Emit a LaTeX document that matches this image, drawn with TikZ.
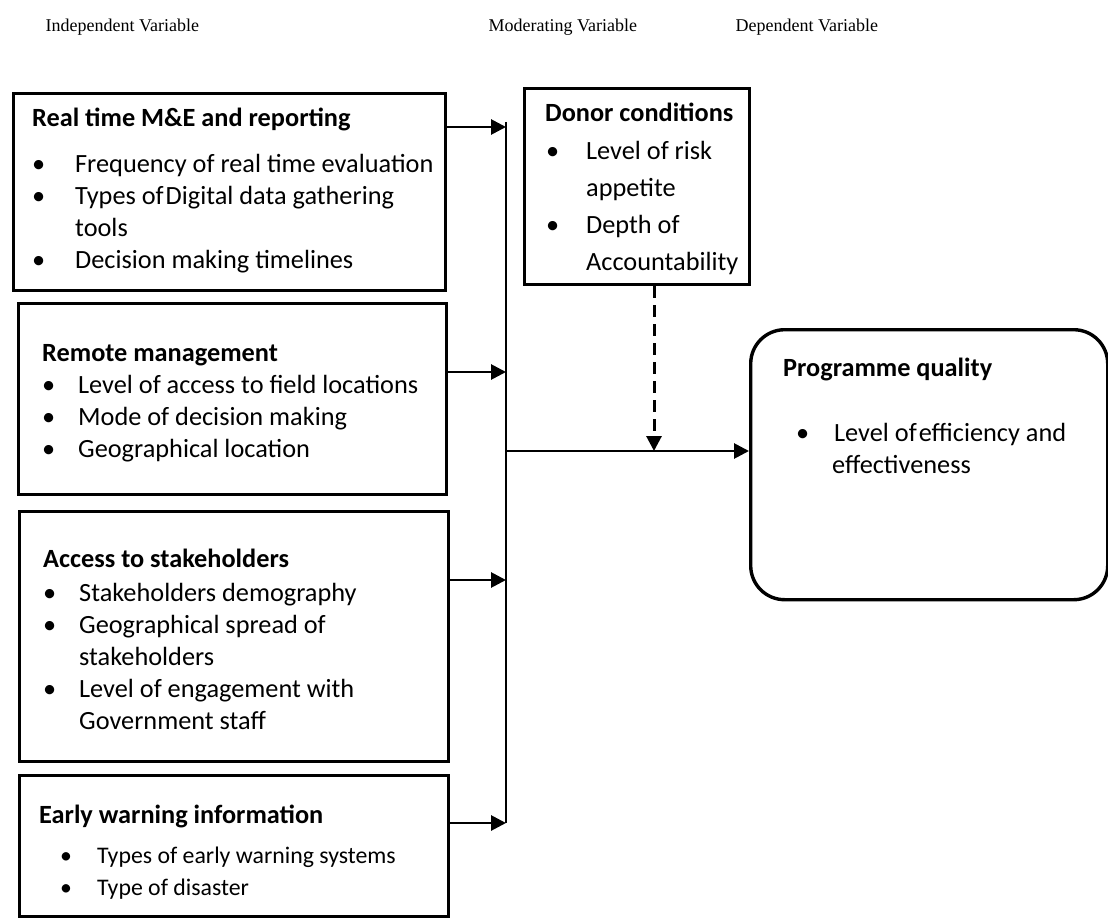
\documentclass[tikz,border=0pt]{standalone}
\usepackage{fontspec}
\setmainfont{Liberation Serif}
\newfontfamily\calfont{Carlito}
\usetikzlibrary{positioning,arrows.meta}

% bullet line and its hanging line
\newcommand{\bul}[2]{\hspace*{#1}\makebox[#2][l]{\textbullet}}
\newcommand{\topstrut}{\rule{0pt}{20pt}}

\begin{document}
\begin{tikzpicture}[x=1pt,y=-1pt,
	varbox/.style={draw, line width=3.2pt, anchor=north west, inner sep=0pt},
	boxtext/.style={anchor=north west, align=left, inner sep=0pt,
		font=\calfont\fontsize{26.3}{32}\selectfont},
	arr/.style={-{Triangle[length=15pt,width=15pt]}, line width=2.8pt},
	hdr/.style={anchor=west, font=\fontsize{18}{20}\selectfont}]

	\useasboundingbox (0,0) rectangle (1108,920);

	% column heads
	\node [hdr] (head-ind) at (42,27) {Independent Variable};
	\node [hdr] (head-mod) at (485,27) {Moderating Variable};
	\node [hdr] (head-dep) at (732,27) {Dependent Variable};

	% independent variables
	\node [varbox, minimum width=432pt, minimum height=197pt] (rt) at (12,92) {};
	\node [boxtext] (rt-txt) at ([xshift=20pt,yshift=-14.5pt]rt.north west)
	{\topstrut\textbf{Real time M\&E and reporting}\\[14pt]
		\bul{0pt}{43pt}Frequency of real time evaluation\\
		\bul{0pt}{43pt}Types of\hspace{2pt}Digital data gathering\\
		\hspace*{43pt}tools\\
		\bul{0pt}{43pt}Decision making timelines};

	\node [varbox, minimum width=428pt, minimum height=191pt] (rm) at (17,302) {};
	\node [boxtext] (rm-txt) at ([xshift=25pt,yshift=-39.5pt]rm.north west)
	{\topstrut\textbf{Remote management}\\
		\bul{0pt}{36pt}Level of access to field locations\\
		\bul{0pt}{36pt}Mode of decision making\\
		\bul{0pt}{36pt}Geographical location};

	\node [varbox, minimum width=429pt, minimum height=250pt] (as) at (18,510) {};
	\node [boxtext] (as-txt) at ([xshift=25pt,yshift=-37pt]as.north west)
	{\topstrut\textbf{Access to stakeholders}\\[2pt]
		\bul{0pt}{36pt}Stakeholders demography\\
		\bul{0pt}{36pt}Geographical spread of\\
		\hspace*{36pt}stakeholders\\
		\bul{0pt}{36pt}Level of engagement with\\
		\hspace*{36pt}Government staff};

	\node [varbox, minimum width=429pt, minimum height=141pt] (ew) at (18,774) {};
	\node [boxtext] (ew-txt) at ([xshift=21pt,yshift=-29pt]ew.north west)
	{\topstrut\textbf{Early warning information}\\[8pt]
		{\fontsize{23.8}{28}\selectfont\bul{21pt}{37pt}Types of early warning systems}\\
		{\fontsize{23.8}{28}\selectfont\bul{21pt}{37pt}Type of disaster}};

	% moderating variable
	\node [varbox, minimum width=225pt, minimum height=196pt] (dc) at (523,87) {};
	\node [boxtext, font=\calfont\fontsize{26.3}{37}\selectfont] (dc-txt) at ([xshift=22pt,yshift=-14.5pt]dc.north west)
	{\topstrut\textbf{Donor conditions}\\[1pt]
		\bul{1pt}{40pt}Level of risk\\
		\hspace*{41pt}appetite\\
		\bul{1pt}{40pt}Depth of\\
		\hspace*{41pt}Accountability};

	% dependent variable
	\node [draw, line width=3.4pt, rounded corners=34pt, anchor=north west, inner sep=0pt,
		minimum width=357pt, minimum height=270pt] (pq) at (749,328) {};
	\node [boxtext] (pq-txt) at ([xshift=34pt,yshift=-28.5pt]pq.north west)
	{\topstrut\textbf{Programme quality}\\[33pt]
		\bul{13pt}{38pt}Level of\hspace{2pt}efficiency and\\
		\hspace*{49pt}effectiveness};

	% collecting line
	\coordinate (bus-top) at (506,122);
	\coordinate (bus-bot) at (506,823);
	\draw [line width=1.3pt] (bus-top) -- (bus-bot);

	\coordinate (in1) at (506,127);
	\coordinate (in2) at (506,372);
	\coordinate (in3) at (506,580);
	\coordinate (in4) at (506,823);
	\draw [arr] (in1 -| rt.east) -- (in1);
	\draw [arr] (in2 -| rm.east) -- (in2);
	\draw [arr] (in3 -| as.east) -- (in3);
	\draw [arr] (in4 -| ew.east) -- (in4);

	% main arrow and moderator
	\coordinate (jn) at (506,451);
	\coordinate (mod) at (654,451);
	\draw [arr] (jn) -- (jn -| pq.west);
	\draw [arr, line width=3pt, dash pattern=on 12pt off 7pt] (mod |- dc.south) -- (mod);
\end{tikzpicture}
\end{document}
